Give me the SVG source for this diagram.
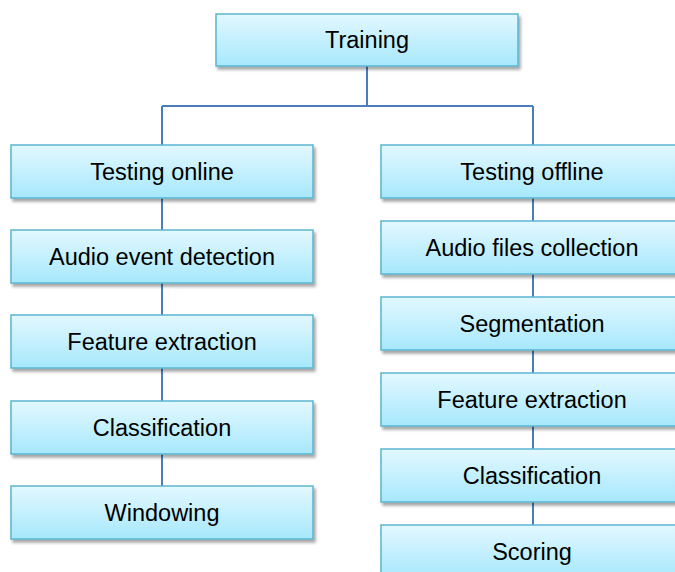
<svg xmlns="http://www.w3.org/2000/svg" width="675" height="572" viewBox="0 0 675 572">
<defs>
<linearGradient id="g" x1="0" y1="0" x2="0" y2="1">
<stop offset="0" stop-color="#e3f8ff"/>
<stop offset="1" stop-color="#a6e8fc"/>
</linearGradient>
<filter id="sh" x="-5%" y="-10%" width="115%" height="140%">
<feDropShadow dx="2" dy="3" stdDeviation="1.8" flood-color="#000" flood-opacity="0.35"/>
</filter>
<style>
.box{fill:url(#g);stroke:#5ab5cf;stroke-width:1.5;filter:url(#sh)}
.lbl{font-family:"Liberation Sans",Arial,sans-serif;font-size:23.5px;fill:#000;text-anchor:middle}
.con{stroke:#4a7ebb;stroke-width:2;fill:none}
</style>
</defs>
<rect width="675" height="572" fill="#fff"/>
<g id="connectors">
<path class="con" d="M367 66V106M162 106H533M162 106V486M533 106V525"/>
</g>
<g id="training"><rect class="box" x="216" y="14" width="302" height="52"/><text class="lbl" x="367" y="48">Training</text></g>
<g id="testing-online"><rect class="box" x="11" y="145" width="302" height="53"/><text class="lbl" x="162" y="180">Testing online</text></g>
<g id="audio-event-detection"><rect class="box" x="11" y="230" width="302" height="53"/><text class="lbl" x="162" y="265">Audio event detection</text></g>
<g id="feature-extraction-online"><rect class="box" x="11" y="315" width="302" height="53"/><text class="lbl" x="162" y="350">Feature extraction</text></g>
<g id="classification-online"><rect class="box" x="11" y="401" width="302" height="53"/><text class="lbl" x="162" y="436">Classification</text></g>
<g id="windowing"><rect class="box" x="11" y="486" width="302" height="53"/><text class="lbl" x="162" y="521">Windowing</text></g>
<g id="testing-offline"><rect class="box" x="381" y="145" width="302" height="53"/><text class="lbl" x="532" y="180">Testing offline</text></g>
<g id="audio-files-collection"><rect class="box" x="381" y="221" width="302" height="53"/><text class="lbl" x="532" y="256">Audio files collection</text></g>
<g id="segmentation"><rect class="box" x="381" y="297" width="302" height="53"/><text class="lbl" x="532" y="332">Segmentation</text></g>
<g id="feature-extraction-offline"><rect class="box" x="381" y="373" width="302" height="53"/><text class="lbl" x="532" y="408">Feature extraction</text></g>
<g id="classification-offline"><rect class="box" x="381" y="449" width="302" height="53"/><text class="lbl" x="532" y="484">Classification</text></g>
<g id="scoring"><rect class="box" x="381" y="525" width="302" height="53"/><text class="lbl" x="532" y="560">Scoring</text></g>
</svg>
